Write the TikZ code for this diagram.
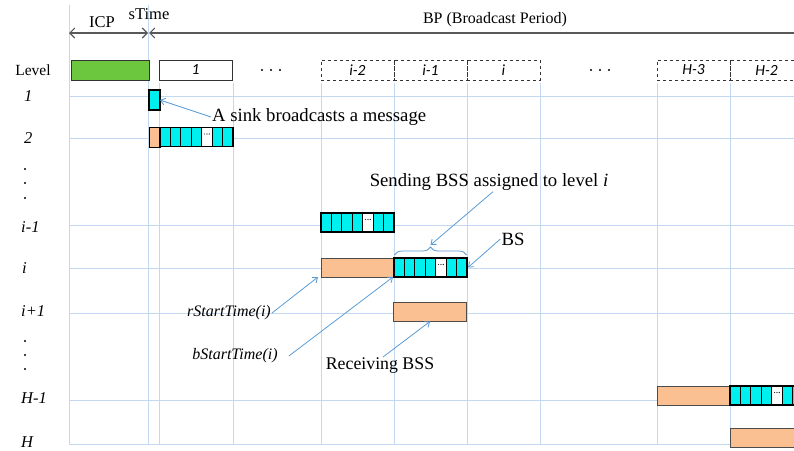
\documentclass[tikz,border=0pt]{standalone}
\usepackage{fontspec}
\setmainfont{Liberation Serif}
\newfontfamily\calib{Carlito}
\usetikzlibrary{arrows.meta,decorations.pathreplacing}
\definecolor{gridc}{RGB}{196,216,240}
\definecolor{arrowc}{RGB}{91,155,213}
\definecolor{greenc}{RGB}{108,198,62}
\definecolor{cyanc}{RGB}{0,240,240}
\definecolor{orangec}{RGB}{250,192,145}
\newcommand\bsrow[3]{%
  \foreach \k/\c in {0/cyanc,1/cyanc,2/cyanc,3/cyanc,4/white,5/cyanc,6/cyanc}{%
    \node[cellbox, fill=\c] (#1-\k) at ({#2+(\k+0.5)*10.43},#3) {};
  }
  \foreach \d in {-2.3,0,2.3}{\fill ([xshift=\d pt, yshift=3pt]#1-4.center) circle (0.6pt);}
  \node[cellbox, minimum width=73pt, line width=1.3pt] (#1) at ({#2+36.5},#3) {};
}
\begin{document}
\begin{tikzpicture}[x=1pt,y=-1pt,
  gridline/.style={draw=gridc, line width=0.7pt},
  lvl/.style={draw=black!80, line width=0.9pt, minimum height=20pt, inner sep=0pt, outer sep=0pt},
  dashbox/.style={draw=black!80, dashed, line width=0.7pt, minimum height=20pt, minimum width=73pt, inner sep=0pt, font=\calib\itshape\fontsize{15.5}{15.5}\selectfont},
  cellbox/.style={draw=black, line width=1.2pt, minimum width=10.43pt, minimum height=19pt, inner sep=0pt, outer sep=0pt},
  orbox/.style={draw=black!70, line width=0.8pt, fill=orangec, minimum height=19pt, minimum width=73pt, inner sep=0pt, outer sep=0pt},
  lab/.style={font=\itshape\fontsize{16.5}{16.5}\selectfont, anchor=west, inner sep=0pt},
  note/.style={font=\fontsize{18.7}{18.7}\selectfont, inner sep=1pt},
  ann/.style={draw=arrowc, line width=0.8pt, -{Straight Barb[length=4.5pt,width=7pt]}},
  toparr/.style={draw=black!65, line width=1.1pt},
  vdot/.style={fill=black, circle, inner sep=0pt, minimum size=2.4pt},
]
\useasboundingbox (0,0) rectangle (794,450);
\clip (0,0) rectangle (794,450);
% grid
\foreach \y in {96,138,225,268,313,400,444}{\draw[gridline] (69,\y) -- (794,\y);}
\foreach \x in {69,148}{\draw[gridline] (\x,5) -- (\x,444);}
\foreach \x in {159,233,321,394,467,540,657,730}{\draw[gridline] (\x,83) -- (\x,444);}
% top arrows
\coordinate (t0) at (69,33);
\coordinate (t1) at (148,33);
\coordinate (t2) at (796,33);
\draw[toparr, {Straight Barb[length=5pt,width=10pt]}-{Straight Barb[length=5pt,width=10pt]}] (t0) -- (t1);
\draw[toparr, {Straight Barb[length=5pt,width=10pt]}-] ([xshift=1pt]t1) -- (t2);
\node[font=\fontsize{16.5}{16.5}\selectfont] (icpl) at (102,22) {ICP};
\node[font=\fontsize{16.5}{16.5}\selectfont] (stl) at (149,14) {sTime};
\node[font=\fontsize{16}{16}\selectfont] (bpl) at (495,20) {BP (Broadcast Period)};
% level row
\node[font=\fontsize{15.5}{15.5}\selectfont] (levl) at (33,70) {Level};
\node[lvl, fill=greenc, minimum width=78pt] (icp) at (110,70) {};
\node[lvl, fill=white, minimum width=73pt, font=\calib\itshape\fontsize{15.5}{15.5}\selectfont] (b1) at (195.5,70) {1};
\foreach \x in {262,271,280}{\node[vdot] at (\x,70) {};}
\node[dashbox] (bim2) at (357.5,70) {i-2};
\node[dashbox] (bim1) at (430.5,70) {i-1};
\node[dashbox] (bi) at (503.5,70) {i};
\foreach \x in {591,600,609}{\node[vdot] at (\x,70) {};}
\node[dashbox] (bh3) at (693.5,70) {H-3};
\node[dashbox] (bh2) at (766.5,70) {H-2};
% level labels
\node[lab] (l1) at (24,96) {1};
\node[lab] (l2) at (24,138) {2};
\foreach \y in {169,183,198}{\fill (25,\y) circle (1.1pt);}
\node[lab] (lim1) at (21,227) {i-1};
\node[lab] (li) at (22,268) {i};
\node[lab] (lip1) at (21,311) {i+1};
\foreach \y in {341,355,369}{\fill (25,\y) circle (1.1pt);}
\node[lab] (lh1) at (21,398) {H-1};
\node[lab] (lh) at (21,442) {H};
% level 1 and 2
\node[cellbox, fill=cyanc, minimum width=11pt, minimum height=20pt] (s1) at (154.5,100) {};
\node[orbox, minimum width=11pt, minimum height=20pt, draw=black, line width=1pt] (o2) at (154.5,137) {};
\bsrow{c2}{160}{137}
% level i-1, i, i+1
\bsrow{cim1}{321}{222.5}
\node[orbox] (oi) at (357.5,267.5) {};
\bsrow{ci}{394}{267.5}
\node[orbox] (oip1) at (430,312) {};
% level H-1, H
\node[orbox] (oh1) at (693.5,395.5) {};
\bsrow{ch1}{730}{395.5}
\node[orbox] (oh) at (766.5,437.5) {};
% brace
\draw[draw=arrowc, line width=0.8pt, decorate, decoration={brace, amplitude=8pt}] (394.5,255) -- (466.5,255);
\coordinate (brtip) at (430.5,245);
% annotations
\node[note, anchor=west] (sink) at (211,117) {A sink broadcasts a message};
\draw[ann] (sink.west) -- (s1.east);
\node[note] (send) at (489,182) {Sending BSS assigned to level \textit{i}};
\draw[ann] ([xshift=4pt]send.south) -- (brtip);
\node[note] (bs) at (513,239) {BS};
\draw[ann] (bs.west) -- ([xshift=1pt]ci.east);
\node[font=\itshape\fontsize{16}{16}\selectfont, inner sep=1pt] (rst) at (229,313) {rStartTime(i)};
\draw[ann] (rst.east) -- ([xshift=-3pt]oi.south west);
\node[font=\itshape\fontsize{16}{16}\selectfont, inner sep=1pt] (bst) at (235,356) {bStartTime(i)};
\draw[ann] ([xshift=10pt]bst.east) -- ([xshift=-1pt]ci.south west);
\node[note, font=\fontsize{17.8}{17.8}\selectfont] (recv) at (380,366) {Receiving BSS};
\draw[ann] ([xshift=3pt]recv.north) -- (oip1.south);
\end{tikzpicture}
\end{document}
